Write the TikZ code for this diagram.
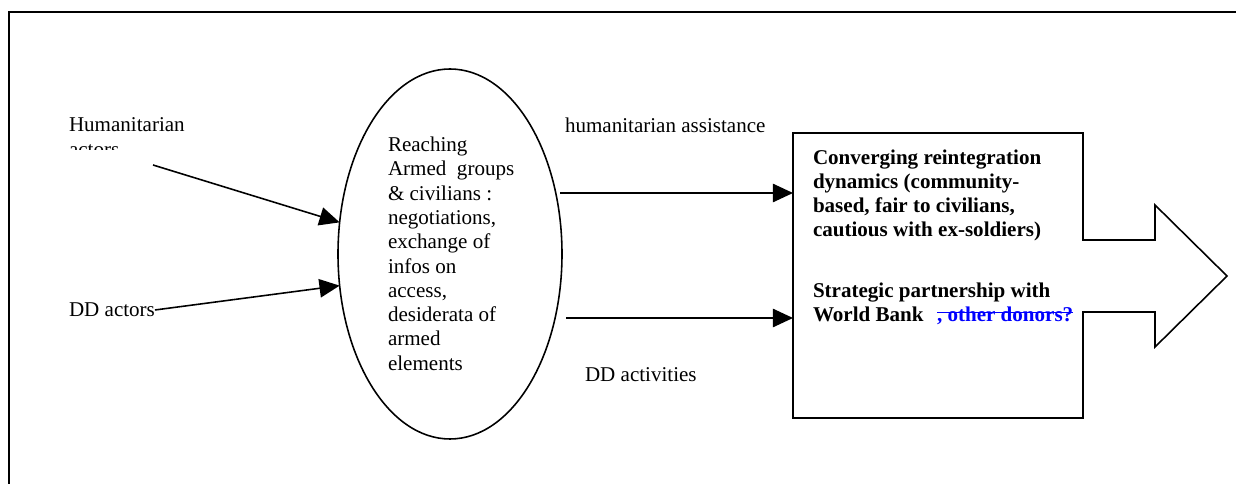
\documentclass[tikz,border=0pt]{standalone}
\usepackage{fontspec}
\setmainfont{Liberation Serif}
\usetikzlibrary{arrows.meta,shapes.geometric}
\begin{document}
\begin{tikzpicture}[x=0.57pt,y=-0.57pt,
  every node/.style={inner sep=0pt, outer sep=0pt},
  txt/.style={font=\fontsize{12}{13.85}\selectfont, align=left, anchor=north west},
  boldtxt/.style={font=\fontsize{12}{13.7}\selectfont\bfseries, align=left, anchor=north west},
  conn/.style={line width=0.9pt, -{Triangle[length=11.5pt,width=10.5pt]}},
  outline/.style={line width=0.9pt},
]
\useasboundingbox (0,0) rectangle (1236,484);
% outer frame (only top and left edges visible)
\begin{scope}
  \clip (0,0) rectangle (1236,484);
  \draw[line width=1.2pt] (9,500) -- (9,12) -- (1250,12);
\end{scope}

% left labels
\begin{scope}
  \clip (60,100) rectangle (250,150);
  \node[txt] (hum) at (69,118) {Humanitarian\\actors};
\end{scope}
\node[txt] (dd) at (69,303) {DD actors};

% ellipse
\node[draw, ellipse, outline, minimum width=224*0.57pt, minimum height=370*0.57pt] (ell) at (450,254) {};
\node[txt] (elltxt) at (388,137) {Reaching\\Armed\ \ groups\\\&\ civilians :\\negotiations,\\exchange of\\infos on\\access,\\desiderata of\\armed\\elements};

% middle labels
\node[txt] (ha) at (565,118) {humanitarian assistance};
\node[txt] (dda) at (585,368) {DD activities};

% box with block arrow
\node[minimum width=290*0.57pt, minimum height=285*0.57pt] (box) at (938,275.5) {};
\draw[outline] (box.south east) -- (box.south west) -- (box.north west) -- (box.north east)
  -- (1083,240) -- (1155,240) -- (1155,205) -- (1227,276) -- (1155,347) -- (1155,312) -- (1083,312) -- cycle;
\node[boldtxt] (conv) at (813,150) {Converging reintegration\\dynamics (community-\\based, fair to civilians,\\cautious with ex-soldiers)};
\node[boldtxt] (strat) at (813,283) {Strategic partnership with\\World Bank};
\node[anchor=base west, font=\fontsize{12}{13.7}\selectfont\bfseries, text=blue] (donors) at (937,322) {, other donors?};
\draw[blue, line width=0.6pt] ([yshift=5.4pt]donors.base west) -- ([yshift=5.4pt]donors.base east);

% connectors
\coordinate (h1) at (153,165);
\draw[conn] (h1) -- (ell.164);
\draw[conn] (dd.east) -- (ell.196);
\coordinate (a1) at (560,193);
\coordinate (a2) at (566,318);
\draw[conn] (a1) -- (a1 -| box.west);
\draw[conn] (a2) -- (a2 -| box.west);
\end{tikzpicture}
\end{document}
